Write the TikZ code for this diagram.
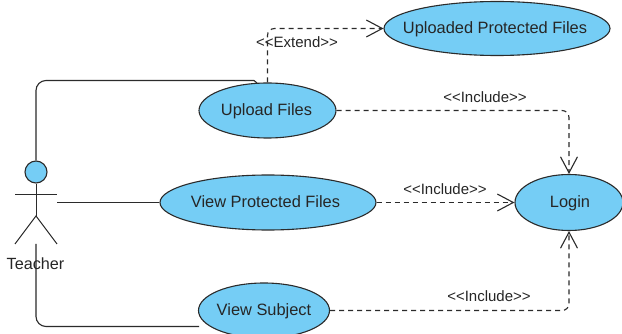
\documentclass[tikz,border=0pt]{standalone}
\usepackage{fontspec}
\setmainfont{Liberation Sans}
\usetikzlibrary{arrows.meta,calc,shapes.geometric}
\definecolor{ucfill}{HTML}{75CDF5}
\definecolor{ucline}{HTML}{2B2B2B}
\tikzset{
  usecase/.style={ellipse,draw=ucline,fill=ucfill,line width=1.1pt,inner sep=-40pt,text height=13pt,text depth=2pt,font=\fontsize{16.4}{18}\selectfont,text=black!85},
  assoc/.style={draw=ucline,line width=1.1pt,rounded corners=10pt},
  actorline/.style={draw=ucline,line width=1pt},
  dep/.style={draw=ucline,line width=1.1pt,dash pattern=on 5pt off 4pt,rounded corners=7pt,-{Straight Barb[length=16pt,width=17pt,line width=1.1pt,sep=0pt]}},
  deplabel/.style={font=\fontsize{15}{17}\selectfont,inner sep=0pt,text=black!85},
}
\newcommand{\stereo}[1]{{<}{<}#1{>}{>}}
\begin{document}
\begin{tikzpicture}[x=1pt,y=-1pt]
\useasboundingbox[fill=white] (0,0) rectangle (622,334);
\begin{scope}
\clip (0,0) rectangle (622,334);
\node[usecase,minimum width=226pt,minimum height=54pt] (upf) at (497,28.5) {\hspace*{-4pt}Uploaded Protected Files};
\node[usecase,minimum width=137pt,minimum height=55pt] (up) at (267.5,110.5) {\hspace*{-2pt}Upload Files};
\node[usecase,minimum width=216pt,minimum height=55pt] (vp) at (268,202.5) {\hspace*{-5pt}View Protected Files};
\node[usecase,minimum width=108pt,minimum height=56pt] (login) at (569,202.5) {\hspace*{2pt}Login};
\node[usecase,minimum width=131pt,minimum height=55pt] (vs) at (264,310.5) {View Subject};
\end{scope}
% actor
\node[circle,draw=ucline,fill=ucfill,line width=1.1pt,minimum size=22pt,inner sep=0pt] (head) at (36,172) {};
\coordinate (hip) at (36,216);
\coordinate (armL) at (15,194.5);
\coordinate (armR) at (57,194.5);
\coordinate (footL) at (15,244);
\coordinate (footR) at (57,244);
\draw[actorline] (head.south) -- (hip);
\draw[actorline] (armL) -- (armR);
\draw[actorline] (footL) -- (hip) -- (footR);
% associations
\coordinate (topcorner) at (36,80.5);
\coordinate (topend) at (254,80.5);
\coordinate (topjoin) at (257,83);
\coordinate (botstart) at (36,244);
\coordinate (midstart) at (57,202.5);
\coordinate (botcorner) at (36,326.5);
\coordinate (botend) at (199,326.5);
\draw[assoc] (head.north) -- (topcorner) -- (topend);
\draw[assoc] (topend) -- (topjoin);
\draw[assoc] (botstart) -- (botcorner) -- (botend);
\draw[assoc] (midstart) -- (vp.west);
\node[font=\fontsize{16.2}{18}\selectfont,inner sep=0pt,text=black!85] (teacher) at (35.5,264) {Teacher};
% dependencies
\coordinate (c1) at (up.north |- upf.west);
\coordinate (c2) at (login.north |- up.east);
\coordinate (c3) at (login.south |- vs.east);
\draw[dep] (up.north) -- (c1) -- (upf.west);
\draw[dep] (up.east) -- (c2) -- (login.north);
\draw[dep] (vp.east) -- (login.west);
\draw[dep] (vs.east) -- (c3) -- (login.south);
% labels
\node[deplabel] (l1) at (297,42) {\stereo{Extend}};
\node[deplabel] (l2) at (485,97) {\stereo{Include}};
\node[deplabel] (l3) at (445,189) {\stereo{Include}};
\node[deplabel] (l4) at (489,296) {\stereo{Include}};
\end{tikzpicture}
\end{document}
